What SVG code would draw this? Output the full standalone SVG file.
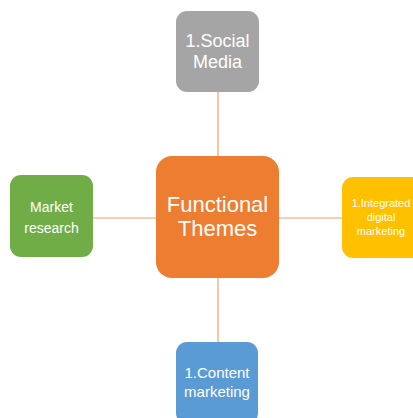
<svg xmlns="http://www.w3.org/2000/svg" width="413" height="418" viewBox="0 0 413 418">
  <style>
    .box { stroke: none; }
    .lbl { font-family: "Liberation Sans", Arial, sans-serif; fill: #ffffff; text-anchor: middle; }
    .link { stroke: #f0a06a; stroke-width: 1.2; fill: none; }
  </style>
  <rect width="413" height="418" fill="#ffffff"/>
  <g id="connectors">
    <line class="link" x1="218" y1="92" x2="218" y2="342"/>
    <line class="link" x1="93" y1="218" x2="342" y2="218"/>
  </g>
  <g id="social-media">
    <rect class="box" x="176" y="11" width="83" height="81" rx="11" fill="#a5a5a5"/>
    <text class="lbl" x="217.5" y="47" font-size="18">1.Social</text>
    <text class="lbl" x="217.5" y="68" font-size="18">Media</text>
  </g>
  <g id="functional-themes">
    <rect class="box" x="156" y="156" width="123" height="122" rx="16" fill="#ed7d31"/>
    <text class="lbl" x="217.5" y="212" font-size="22">Functional</text>
    <text class="lbl" x="217.5" y="236" font-size="22">Themes</text>
  </g>
  <g id="market-research">
    <rect class="box" x="10" y="175" width="83" height="82" rx="11" fill="#70ad47"/>
    <text class="lbl" x="51.5" y="212" font-size="14">Market</text>
    <text class="lbl" x="51.5" y="233" font-size="14">research</text>
  </g>
  <g id="integrated-digital-marketing">
    <rect class="box" x="342" y="177" width="82" height="81" rx="11" fill="#ffc000"/>
    <text class="lbl" x="381" y="207" font-size="11">1.Integrated</text>
    <text class="lbl" x="381" y="221" font-size="11">digital</text>
    <text class="lbl" x="381" y="235" font-size="11">marketing</text>
  </g>
  <g id="content-marketing">
    <rect class="box" x="176" y="342" width="82" height="82" rx="11" fill="#5b9bd5"/>
    <text class="lbl" x="217" y="378" font-size="15">1.Content</text>
    <text class="lbl" x="217" y="397" font-size="15">marketing</text>
  </g>
</svg>
